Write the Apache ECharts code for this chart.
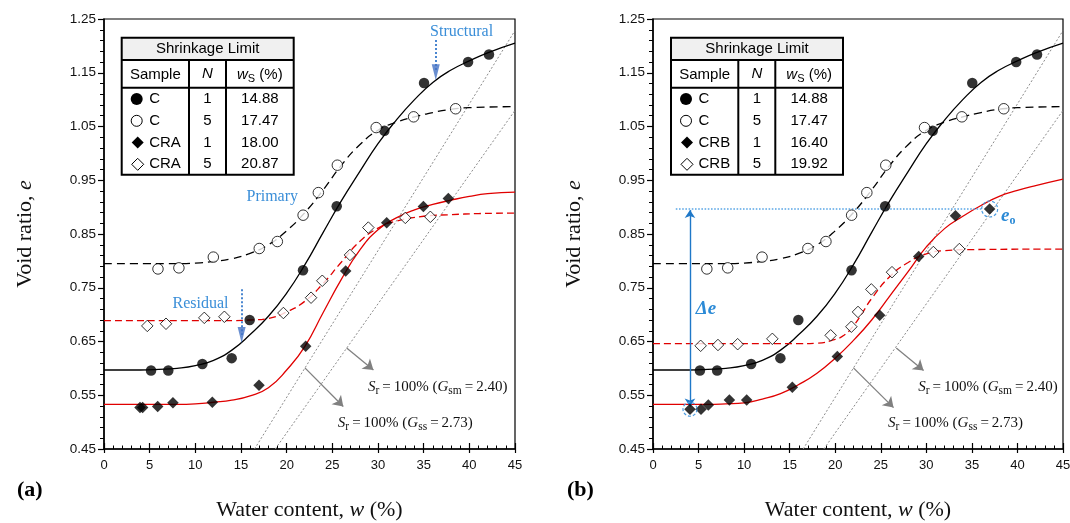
<!DOCTYPE html>
<html><head><meta charset="utf-8">
<script src="https://cdn.jsdelivr.net/npm/echarts@6/dist/echarts.min.js"></script>
<style>html,body{margin:0;padding:0;background:#fff}#c{width:1070px;height:523px}</style>
</head><body><div id="c"></div>
<script>
// ---------------- data ----------------
const xTickMin = 0, xTickMax = 45, xTickStep = 5;
const yTickMin = 0.45, yTickMax = 1.25, yTickStep = 0.1;

// measured points [w (%), e]
const cN1 = [[5.15,0.596],[7.04,0.596],[10.77,0.608],[13.98,0.619],[15.95,0.690],[21.79,0.7825],[25.48,0.9015],[30.7,1.042],[35.04,1.131],[39.86,1.170],[42.15,1.184]];
const cN5 = [[5.91,0.785],[8.2,0.787],[11.97,0.807],[17.0,0.823],[18.98,0.836],[21.8,0.885],[23.47,0.927],[25.55,0.978],[29.8,1.048],[33.9,1.068],[38.5,1.083]];
const craN1 = [[3.94,0.527],[4.23,0.527],[5.88,0.529],[7.55,0.536],[11.86,0.537],[16.97,0.5685],[22.08,0.641],[26.46,0.781],[30.95,0.871],[34.97,0.901],[37.7,0.916]];
const craN5 = [[4.74,0.679],[6.79,0.683],[10.98,0.694],[13.18,0.696],[19.64,0.703],[22.67,0.7315],[23.9,0.763],[26.93,0.811],[28.94,0.862],[32.99,0.880],[35.73,0.882]];
const crbN1 = [[4.06,0.524],[5.27,0.524],[6.07,0.532],[8.38,0.541],[10.28,0.541],[15.29,0.565],[20.23,0.622],[24.88,0.699],[29.16,0.808],[33.2,0.884],[36.95,0.8965]];
const crbN5 = [[5.23,0.642],[7.13,0.6435],[9.29,0.645],[13.1,0.655],[19.5,0.6615],[21.77,0.6775],[22.5,0.705],[23.96,0.747],[26.23,0.779],[30.77,0.8165],[33.62,0.822]];

// fitted curves
const fitCN1 = [[0,0.597],[4,0.597],[6,0.598],[8,0.600],[10,0.605],[12,0.615],[14,0.634],[16,0.663],[18,0.697],[20,0.740],[22,0.793],[24,0.853],[26,0.912],[28,0.966],[30,1.018],[32,1.062],[34,1.100],[36,1.132],[38,1.155],[40,1.172],[42,1.187],[45,1.205]];
const fitCN5 = [[0,0.795],[8,0.795],[10,0.796],[12,0.799],[14,0.804],[16,0.814],[18,0.830],[20,0.856],[22,0.890],[24,0.932],[26,0.978],[28,1.016],[30,1.043],[32,1.058],[34,1.068],[36,1.076],[38,1.082],[40,1.085],[45,1.087]];
const fitCRAN1 = [[0,0.533],[8,0.533],[10,0.534],[12,0.537],[14,0.541],[16,0.549],[18,0.564],[20,0.597],[22,0.641],[24,0.704],[26,0.766],[28,0.820],[30,0.858],[32,0.880],[34,0.895],[36,0.905],[38,0.913],[40,0.920],[42,0.925],[45,0.928]];
const fitCRAN5 = [[0,0.689],[14,0.689],[16,0.690],[18,0.693],[20,0.705],[22,0.725],[24,0.758],[26,0.798],[28,0.836],[30,0.861],[32,0.874],[35,0.883],[38,0.886],[41,0.888],[45,0.889]];
const fitCRBN1 = [[0,0.533],[6,0.533],[8,0.534],[10,0.536],[12,0.543],[14,0.553],[16,0.570],[18,0.591],[20,0.619],[22,0.652],[24,0.690],[26,0.735],[28,0.780],[30,0.826],[32,0.860],[34,0.883],[36,0.903],[38,0.920],[40,0.931],[42,0.940],[45,0.952]];
const fitCRBN5 = [[0,0.646],[16,0.646],[18,0.647],[20,0.654],[21,0.662],[22,0.679],[23,0.704],[24,0.730],[26,0.771],[28,0.797],[30,0.813],[32,0.819],[35,0.821],[45,0.822]];

// saturation lines (Sr = 100%) end points
const satGss = [[16.48,0.45],[45,1.2285]];
const satGsm = [[18.75,0.45],[45,1.08]];

// table contents
const tableTitle = 'Shrinkage Limit';
const tableSymbols = ['circleFilled','circleOpen','diamondFilled','diamondOpen'];
const tableN = ['1','5','1','5'];
const tableASamples = ['C','C','CRA','CRA'];
const tableAWs = ['14.88','17.47','18.00','20.87'];
const tableBSamples = ['C','C','CRB','CRB'];
const tableBWs = ['14.88','17.47','16.40','19.92'];

// ---------------- chart ----------------
const SERIF = '"Liberation Serif","DejaVu Serif",serif';
const SANS = '"Liberation Sans",Arial,sans-serif';
const RED = '#E00000';
const BLUE_T = '#3A8ED8';
const BLUE_A = '#4472C4';

const chart = echarts.init(document.getElementById('c'), null, {renderer:'canvas'});
const grids = [
  {left:104, top:19, width:411, height:430},
  {left:653, top:19, width:410, height:430}
];

function xAxesFor(g) {
  const base = {gridIndex:g, type:'value', min:xTickMin, max:xTickMax, interval:xTickStep, position:'bottom', splitLine:{show:false}};
  return [
    Object.assign({}, base, {
      axisLine:{show:true, onZero:false, lineStyle:{color:'#000', width:1.5}},
      axisTick:{show:true, inside:true, length:6, lineStyle:{color:'#000', width:1.2}},
      minorTick:{show:true, splitNumber:5, length:3.5, lineStyle:{color:'#000', width:1}},
      axisLabel:{color:'#111', fontSize:13, fontFamily:SANS, margin:10},
      name:'Water content, {i|w} (%)', nameLocation:'middle', nameGap:50,
      nameTextStyle:{fontFamily:SERIF, fontSize:22, color:'#111', rich:{i:{fontFamily:SERIF, fontSize:22, fontStyle:'italic', color:'#111'}}}
    }),
    Object.assign({}, base, {
      offset:0,
      axisLine:{show:false},
      axisTick:{show:true, inside:false, length:4, lineStyle:{color:'#000', width:1.2}},
      axisLabel:{show:false}
    })
  ];
}
function yAxisFor(g) {
  return {gridIndex:g, type:'value', min:yTickMin, max:yTickMax, interval:yTickStep, splitLine:{show:false},
    axisLine:{show:true, onZero:false, lineStyle:{color:'#000', width:1.5}},
    axisTick:{show:true, inside:false, length:6, lineStyle:{color:'#000', width:1.2}},
    minorTick:{show:true, splitNumber:5, length:4, lineStyle:{color:'#000', width:1}},
    axisLabel:{color:'#111', fontSize:13.5, fontFamily:SANS, margin:8, formatter:v=>v.toFixed(2)},
    name:'Void ratio, {i|e}', nameLocation:'middle', nameGap:68, nameRotate:90,
    nameTextStyle:{fontFamily:SERIF, fontSize:22, color:'#111', rich:{i:{fontFamily:SERIF, fontSize:22, fontStyle:'italic', color:'#111'}}}
  };
}

function curve(data, g, color, type, dash) {
  return {type:'line', xAxisIndex:2*g, yAxisIndex:g, data:data, symbol:'none', showSymbol:false, smooth:0.5,
    lineStyle:{color:color, width:1.3, type: dash ? dash : type}, silent:true, z:3};
}
function satLine(data, g) {
  return {type:'line', xAxisIndex:2*g, yAxisIndex:g, data:data, symbol:'none', showSymbol:false,
    lineStyle:{color:'#8a8a8a', width:1, type:[2,2]}, silent:true, z:2};
}
function pts(data, g, kind) {
  const filled = kind.indexOf('Filled') >= 0;
  const dia = kind.indexOf('diamond') === 0;
  return {type:'scatter', xAxisIndex:2*g, yAxisIndex:g, data:data, symbol: dia ? 'diamond' : 'circle',
    symbolSize: dia ? 11.5 : 10.5, z:5, silent:true,
    itemStyle: filled ? {color:'#000'} : {color:'#fff', borderColor:'#000', borderWidth:1}};
}
function annot(g, lines, style, symbols, symSize) {
  return {type:'scatter', xAxisIndex:2*g, yAxisIndex:g, data:[], silent:true, z:4,
    markLine:{silent:true, animation:false, symbol:symbols, symbolSize:symSize, label:{show:false},
      lineStyle:style, emphasis:{disabled:true},
      data: lines.map(l => [{coord:l[0]},{coord:l[1]}])}};
}
function head(g, pt, color) {
  return {type:'scatter', xAxisIndex:2*g, yAxisIndex:g, data:[pt], symbol:'triangle', symbolRotate:180, symbolSize:[8,16], silent:true, z:6, itemStyle:{color:color}};
}

const series = [];
[0,1].forEach(g => {
  series.push(satLine(satGss, g), satLine(satGsm, g));
  series.push(curve(fitCN1, g, '#000', 'solid'));
  series.push(curve(fitCN5, g, '#000', 'dashed', [8,5]));
});
series.push(curve(fitCRAN1, 0, RED, 'solid'), curve(fitCRAN5, 0, RED, 'dashed', [7,4]));
series.push(curve(fitCRBN1, 1, RED, 'solid'), curve(fitCRBN5, 1, RED, 'dashed', [7,4]));
series.push(pts(cN1,0,'circleFilled'), pts(cN5,0,'circleOpen'), pts(craN1,0,'diamondFilled'), pts(craN5,0,'diamondOpen'));
series.push(pts(cN1,1,'circleFilled'), pts(cN5,1,'circleOpen'), pts(crbN1,1,'diamondFilled'), pts(crbN5,1,'diamondOpen'));

// gray arrows
series.push(annot(0, [[[26.57,0.638],[29.5,0.597]], [[22.0,0.601],[26.2,0.529]]], {color:'#808080', width:1.3, type:'solid'}, ['none','arrow'], 10));
series.push(annot(1, [[[26.7,0.638],[29.7,0.596]], [[22.0,0.601],[26.4,0.527]]], {color:'#808080', width:1.3, type:'solid'}, ['none','arrow'], 10));
// blue dotted arrows (left)
series.push(annot(0, [[[36.32,1.211],[36.32,1.152]], [[15.07,0.747],[15.07,0.662]]], {color:'#4A86D0', width:2, type:'dotted'}, ['none','none'], 1));
series.push(head(0, [36.32,1.151], BLUE_A), head(0, [15.07,0.662], BLUE_A));
// right: eo level and delta e arrow
series.push(annot(1, [[[2.5,0.8965],[36.1,0.8965]]], {color:'#5AA6E6', width:1.6, type:'dotted'}, ['none','none'], 1));
series.push(annot(1, [[[4.06,0.8945],[4.06,0.529]]], {color:'#1F78C8', width:1.4, type:'solid'}, ['arrow','arrow'], 8));

chart.setOption({
  animation:false,
  backgroundColor:'#fff',
  grid: grids.map(g => Object.assign({show:true, borderColor:'#000', borderWidth:1.2, backgroundColor:'transparent', containLabel:false, outerBoundsMode:'none'}, g)),
  xAxis: xAxesFor(0).concat(xAxesFor(1)),
  yAxis: [yAxisFor(0), yAxisFor(1)],
  series: series
});

// ---------------- graphics ----------------
function px(g, p) { return chart.convertToPixel({xAxisIndex:2*g, yAxisIndex:g}, p); }

function tableGraphic(left, top, samples, ws) {
  const W=172, H=137, h0=22.3, h1=50, rowH=21.75, c1=67.3, c2=104.3;
  const ch = [];
  ch.push({type:'rect', shape:{x:0,y:0,width:W,height:h0}, style:{fill:'#F0F0F0'}});
  ch.push({type:'rect', shape:{x:0,y:0,width:W,height:H}, style:{fill:'#fff', stroke:'none'}, z:-1});
  const L = (x1,y1,x2,y2) => ({type:'line', shape:{x1,y1,x2,y2}, style:{stroke:'#000', lineWidth:2}});
  ch.push(L(0,h0,W,h0), L(0,h1,W,h1), L(c1,h0,c1,H), L(c2,h0,c2,H));
  ch.push({type:'rect', shape:{x:0,y:0,width:W,height:H}, style:{fill:'none', stroke:'#000', lineWidth:2}});
  const T = (x,y,text,align,extra) => ({type:'text', x, y, style:Object.assign({text, font:'15px '+SANS, fill:'#000', align:align, textAlign:align, verticalAlign:'middle', textVerticalAlign:'middle'}, extra||{})});
  ch.push(T(W/2, h0/2+0.5, tableTitle, 'center'));
  ch.push(T(c1/2, (h0+h1)/2+1, 'Sample', 'center'));
  ch.push(T((c1+c2)/2, (h0+h1)/2, 'N', 'center', {font:'italic 15px '+SANS}));
  ch.push(T((c2+W)/2, (h0+h1)/2+1, '{i|w}{s|S}{n| (%)}', 'center', {rich:{
    i:{font:'italic 15px '+SANS, fill:'#000', lineHeight:20},
    s:{font:'11px '+SANS, fill:'#000', lineHeight:12, verticalAlign:'bottom'},
    n:{font:'15px '+SANS, fill:'#000', lineHeight:20}}}));
  for (let i=0;i<4;i++) {
    const cy = h1 + rowH*(i+0.5) + 0.5;
    const s = tableSymbols[i], sx = 15;
    if (s==='circleFilled') ch.push({type:'circle', shape:{cx:sx, cy:cy, r:6}, style:{fill:'#000'}});
    if (s==='circleOpen') ch.push({type:'circle', shape:{cx:sx, cy:cy, r:5.5}, style:{fill:'#fff', stroke:'#000', lineWidth:1}});
    if (s.indexOf('diamond')===0) ch.push({type:'polygon', shape:{points:[[sx+1,cy-6],[sx+7,cy],[sx+1,cy+6],[sx-5,cy]]},
      style: s==='diamondFilled' ? {fill:'#000'} : {fill:'#fff', stroke:'#000', lineWidth:1}});
    ch.push(T(27.5, cy, samples[i], 'left'));
    ch.push(T((c1+c2)/2, cy, tableN[i], 'center'));
    ch.push(T((c2+W)/2, cy, ws[i], 'center'));
  }
  return {type:'group', x:left, y:top, children:ch, z:20};
}

function srLabel(g, p, sub, val) {
  const q = px(g, p);
  const base = {fontFamily:SERIF, fontSize:15, fill:'#111', lineHeight:20};
  return {type:'text', x:q[0], y:q[1], z:20, style:{
    text:'{i|S}{s|r}{n|\u2009=\u2009100% (}{i|G}{s|'+sub+'}{n|\u2009=\u2009'+val+')}',
    align:'left', textAlign:'left', verticalAlign:'middle', textVerticalAlign:'middle',
    rich:{
      n: base,
      i: Object.assign({}, base, {fontStyle:'italic'}),
      s: {fontFamily:SERIF, fontSize:11.5, fill:'#111', lineHeight:12, verticalAlign:'bottom'}
    }}};
}
function blueText(g, p, text, opts) {
  const q = px(g, p);
  return {type:'text', x:q[0], y:q[1], z:20, style:Object.assign({text, font:'16px '+SERIF, fill:BLUE_T,
    align:'left', textAlign:'left', verticalAlign:'middle', textVerticalAlign:'middle'}, opts||{})};
}
function dashCircle(g, p, r) {
  const q = px(g, p);
  return {type:'circle', z:20, shape:{cx:q[0], cy:q[1], r:r}, style:{fill:'none', stroke:'#4A9BE0', lineWidth:1.2, lineDash:[3,2]}};
}

const graphics = [
  tableGraphic(121.7, 37.7, tableASamples, tableAWs),
  tableGraphic(671, 37.7, tableBSamples, tableBWs),
  srLabel(0, [28.9,0.566], 'sm', '2.40'),
  srLabel(0, [25.6,0.499], 'ss', '2.73'),
  srLabel(1, [29.1,0.566], 'sm', '2.40'),
  srLabel(1, [25.8,0.499], 'ss', '2.73'),
  blueText(0, [35.7,1.226], 'Structural'),
  blueText(0, [15.6,0.920], 'Primary'),
  blueText(0, [7.5,0.721], 'Residual'),
  blueText(1, [4.7,0.7105], '\u0394e', {font:'italic bold 19px '+SERIF, fill:'#2B8AD6'}),
  blueText(1, [38.2,0.884], '{e|e}{o|o}', {rich:{
    e:{font:'italic bold 19px '+SERIF, fill:'#2B8AD6', lineHeight:22},
    o:{font:'bold 12px '+SERIF, fill:'#2B8AD6', lineHeight:12, verticalAlign:'bottom'}}}),
  dashCircle(1, [4.06,0.524], 7),
  dashCircle(1, [36.95,0.8965], 8),
  {type:'text', x:17, y:490, z:20, style:{text:'(a)', font:'bold 22px '+SERIF, fill:'#000', verticalAlign:'middle', textVerticalAlign:'middle'}},
  {type:'text', x:567, y:490, z:20, style:{text:'(b)', font:'bold 22px '+SERIF, fill:'#000', verticalAlign:'middle', textVerticalAlign:'middle'}}
];
chart.setOption({graphic: graphics});
</script></body></html>
